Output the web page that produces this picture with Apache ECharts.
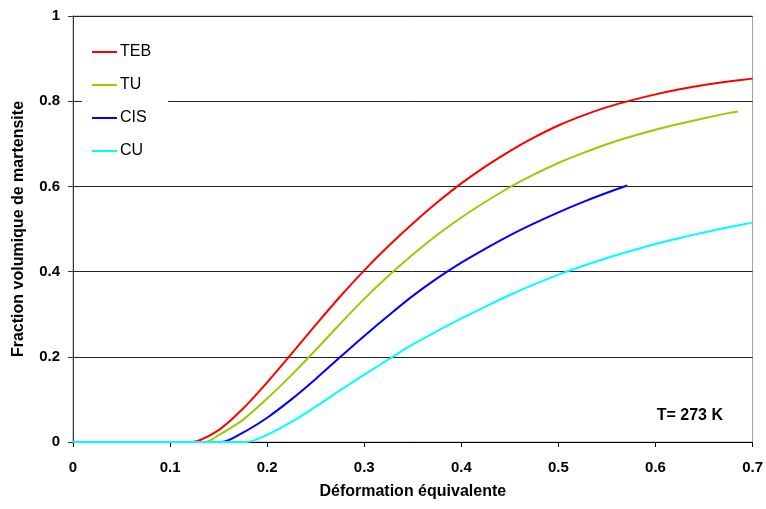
<!DOCTYPE html>
<html><head><meta charset="utf-8">
<script src="https://cdn.jsdelivr.net/npm/echarts@6/dist/echarts.min.js"></script>
<style>html,body{margin:0;padding:0;background:#fff}#c{width:766px;height:509px}</style>
</head><body><div id="c"></div>
<script>
const seriesNames = ['TEB', 'TU', 'CIS', 'CU'];
const seriesColors = ['#FF0000', '#99CC00', '#0000FF', '#00FFFF'];

const tebX = [0, 0.1, 0.122, 0.15, 0.175, 0.2, 0.225, 0.25, 0.275, 0.3, 0.325, 0.35, 0.375, 0.4, 0.425, 0.45, 0.475, 0.5, 0.525, 0.55, 0.575, 0.6, 0.625, 0.65, 0.675, 0.7];
const tebY = [0, 0, 0, 0.028, 0.078, 0.14, 0.207, 0.275, 0.341, 0.403, 0.46, 0.513, 0.562, 0.607, 0.647, 0.683, 0.715, 0.743, 0.766, 0.786, 0.802, 0.816, 0.828, 0.838, 0.846, 0.853];

const tuX = [0, 0.1, 0.136, 0.15, 0.175, 0.2, 0.225, 0.25, 0.275, 0.3, 0.325, 0.35, 0.375, 0.4, 0.425, 0.45, 0.475, 0.5, 0.525, 0.55, 0.575, 0.6, 0.625, 0.65, 0.675, 0.685];
const tuY = [0, 0, 0, 0.016, 0.052, 0.102, 0.157, 0.216, 0.277, 0.336, 0.39, 0.44, 0.486, 0.527, 0.564, 0.598, 0.628, 0.655, 0.678, 0.699, 0.717, 0.733, 0.747, 0.76, 0.772, 0.776];

const cisX = [0, 0.1, 0.153, 0.175, 0.2, 0.225, 0.25, 0.275, 0.3, 0.325, 0.35, 0.375, 0.4, 0.425, 0.45, 0.475, 0.5, 0.525, 0.55, 0.571];
const cisY = [0, 0, 0, 0.022, 0.057, 0.1, 0.148, 0.199, 0.249, 0.297, 0.343, 0.384, 0.421, 0.454, 0.485, 0.513, 0.539, 0.563, 0.585, 0.602];

const cuX = [0, 0.1, 0.1785, 0.2, 0.225, 0.25, 0.275, 0.3, 0.325, 0.35, 0.375, 0.4, 0.425, 0.45, 0.475, 0.5, 0.525, 0.55, 0.575, 0.6, 0.625, 0.65, 0.675, 0.7];
const cuY = [0, 0, 0, 0.017, 0.047, 0.083, 0.121, 0.158, 0.194, 0.229, 0.26, 0.29, 0.318, 0.345, 0.37, 0.393, 0.413, 0.432, 0.449, 0.465, 0.479, 0.492, 0.504, 0.515];

const xTicks = [0, 0.1, 0.2, 0.3, 0.4, 0.5, 0.6, 0.7];
const yTicks = [0, 0.2, 0.4, 0.6, 0.8, 1];
const xTitle = 'Déformation équivalente';
const yTitle = 'Fraction volumique de martensite';
const note = 'T= 273 K';

const xsAll = [tebX, tuX, cisX, cuX];
const ysAll = [tebY, tuY, cisY, cuY];
const FONT = '"Liberation Sans", Arial, sans-serif';

const chart = echarts.init(document.getElementById('c'));
chart.setOption({
  animation: false,
  backgroundColor: '#fff',
  textStyle: { fontFamily: FONT },
  grid: { left: 73, right: 12, top: 16, bottom: 67, show: true, borderColor: '#a0a0a0', borderWidth: 1, backgroundColor: 'transparent' },
  legend: {
    orient: 'vertical', left: 82, top: 38,
    data: seriesNames,
    itemWidth: 25, itemHeight: 16, itemGap: 17,
    backgroundColor: '#fff',
    padding: [6, 17, 6, 10],
    textStyle: { fontFamily: FONT, fontSize: 16, color: '#000', padding: [0, 0, 0, -2] },
    icon: 'path://M0,6 L25,6 L25,8 L0,8 Z'
  },
  xAxis: {
    type: 'value', min: xTicks[0], max: xTicks[xTicks.length - 1], interval: 0.1,
    name: xTitle, nameLocation: 'middle', nameGap: 42,
    nameTextStyle: { fontFamily: FONT, fontSize: 16, fontWeight: 'bold', color: '#000' },
    axisLine: { show: true, onZero: false, lineStyle: { color: '#000', width: 1 } },
    axisTick: { show: true, length: 5, inside: false, lineStyle: { color: '#000' } },
    axisLabel: { margin: 18, fontFamily: FONT, fontSize: 15, fontWeight: 'bold', color: '#000',
      formatter: v => String(Math.round(v * 10) / 10) },
    splitLine: { show: false }
  },
  yAxis: {
    type: 'value', min: yTicks[0], max: yTicks[yTicks.length - 1], interval: 0.2,
    name: yTitle, nameLocation: 'middle', nameGap: 46, nameRotate: 90,
    nameTextStyle: { fontFamily: FONT, fontSize: 16, fontWeight: 'bold', color: '#000' },
    axisLine: { show: true, lineStyle: { color: '#333', width: 1 } },
    axisTick: { show: true, length: 5, inside: false, lineStyle: { color: '#333' } },
    axisLabel: { margin: 13, fontFamily: FONT, fontSize: 15, fontWeight: 'bold', color: '#000',
      formatter: v => String(Math.round(v * 10) / 10) },
    splitLine: { show: true, lineStyle: { color: '#222', width: 1 } }
  },
  graphic: [{
    type: 'text', right: 43, top: 408, z: 10,
    style: { text: note, fontFamily: FONT, fontSize: 16, fontWeight: 'bold', fill: '#000' }
  }],
  series: seriesNames.map((n, i) => ({
    name: n, type: 'line',
    data: xsAll[i].map((x, j) => [x, ysAll[i][j]]),
    showSymbol: false, symbol: 'none',
    smooth: 0.3,
    lineStyle: { color: seriesColors[i], width: 2 },
    itemStyle: { color: seriesColors[i] },
    z: 2 + i
  }))
});
</script></body></html>
